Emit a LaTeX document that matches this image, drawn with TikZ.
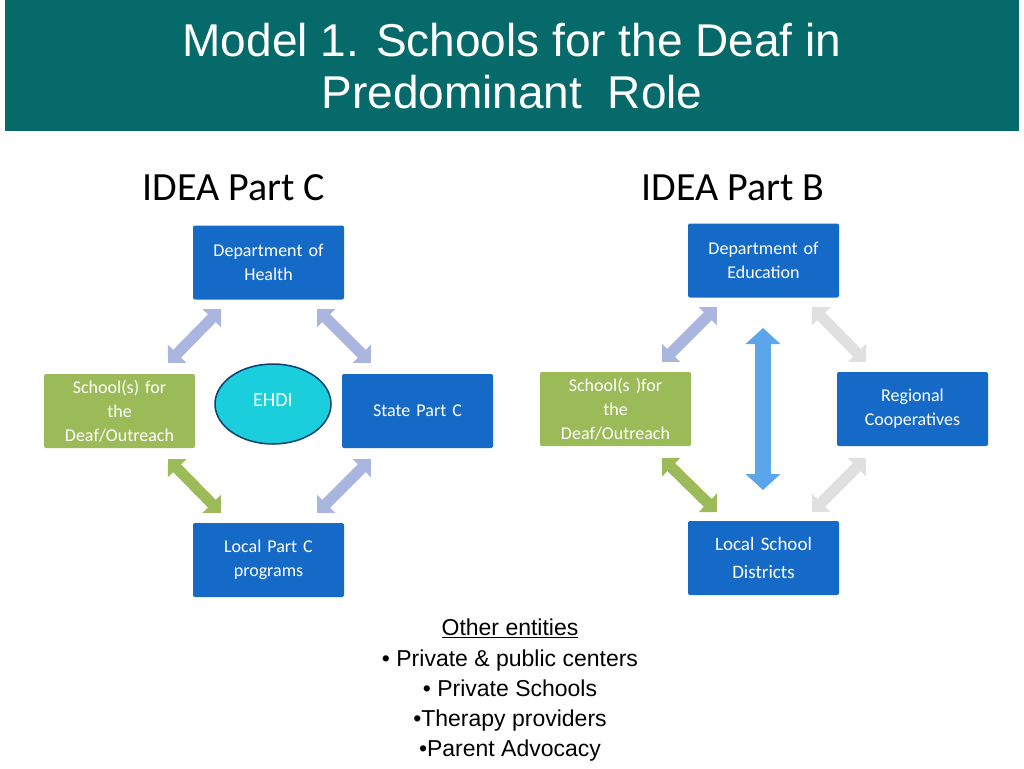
\documentclass[tikz,border=0pt]{standalone}
\usepackage{fontspec}
\setmainfont{Carlito}
\newfontfamily\arial{Liberation Sans}
\usetikzlibrary{arrows.meta,shapes.geometric}
\definecolor{teal1}{HTML}{066A6A}
\definecolor{bbox}{HTML}{1569C7}
\definecolor{gbox}{HTML}{9BBB59}
\definecolor{larr}{HTML}{AAB6DF}
\definecolor{varr}{HTML}{5BA6EA}
\definecolor{cyan1}{HTML}{1BCEDC}
\tikzset{
 box/.style={rounded corners=2pt,minimum width=151pt,minimum height=74pt,text width=140pt,align=center,text=white,font=\fontsize{18}{24}\selectfont,inner sep=0pt},
 bbx/.style={box,fill=bbox},
 gbx/.style={box,fill=gbox},
 barr/.style={line width=11pt,{Triangle[width=25pt,length=13pt]}-{Triangle[width=25pt,length=13pt]}},
}
\begin{document}
\begin{tikzpicture}[x=1pt,y=-1pt]
\useasboundingbox (0,0) rectangle (1024,768);
\fill[teal1] (5,0) rectangle (1019,131);
\node[text=white,font=\arial\fontsize{46}{52}\selectfont,align=center] (title) at (512,66) {Model 1. Schools for the Deaf in\\Predominant\ \ Role};
\node[font=\fontsize{40}{44}\selectfont] (pc) at (234,188) {IDEA Part C};
\node[font=\fontsize{40}{44}\selectfont] (pb) at (733,188) {IDEA Part B};
% left
\node[bbx] (dh) at (268.5,262.5) {Department of\\Health};
\node[gbx] (ls) at (119.5,411) {School(s) for\\the\\Deaf/Outreach};
\node[bbx] (sp) at (417.5,411) {State Part C};
\node[bbx] (lp) at (268.5,560) {Local Part C\\programs};
\node[draw=bbox!60!black,line width=1.5pt,fill=cyan1,ellipse,minimum width=116pt,minimum height=80pt,text=white,font=\fontsize{20}{24}\selectfont] (ehdi) at (273,404) {\raisebox{8pt}{EHDI}};
% right
\node[bbx] (de) at (763.5,260.5) {Department of\\Education};
\node[gbx] (rs) at (615.5,409) {School(s )for\\the\\Deaf/Outreach};
\node[bbx] (rc) at (912.5,409) {Regional\\Cooperatives};
\node[bbx,font=\fontsize{19}{28}\selectfont] (lsd) at (763.5,558) {Local School\\Districts};
% coordinates for arrows
\coordinate (a1) at (168,363); \coordinate (a2) at (221,309);
\coordinate (a3) at (317,309); \coordinate (a4) at (371,363);
\coordinate (a5) at (168,459); \coordinate (a6) at (221,513);
\coordinate (a7) at (371,459); \coordinate (a8) at (317,513);
\coordinate (b1) at (662,362); \coordinate (b2) at (717,307);
\coordinate (b3) at (812,307); \coordinate (b4) at (866,362);
\coordinate (b5) at (662,458); \coordinate (b6) at (717,512);
\coordinate (b7) at (866,458); \coordinate (b8) at (812,512);
\coordinate (v1) at (763,328); \coordinate (v2) at (763,490);
\draw[barr,larr] (a1) -- (a2);
\draw[barr,larr] (a3) -- (a4);
\draw[barr,gbox] (a5) -- (a6);
\draw[barr,larr] (a7) -- (a8);
\draw[barr,larr] (b1) -- (b2);
\draw[barr,black!12] (b3) -- (b4);
\draw[barr,gbox] (b5) -- (b6);
\draw[barr,black!12] (b7) -- (b8);
\draw[line width=16pt,varr,{Triangle[width=34pt,length=16pt]}-{Triangle[width=34pt,length=16pt]}] (v1) -- (v2);
% other entities
\node[font=\arial\fontsize{23}{30}\selectfont,align=center] (oe) at (510,690) {\underline{Other entities}\\[1pt]
\textbullet\ Private \& public centers\\
\textbullet\ Private Schools\\
\textbullet Therapy providers\\
\textbullet Parent Advocacy};
\end{tikzpicture}
\end{document}
